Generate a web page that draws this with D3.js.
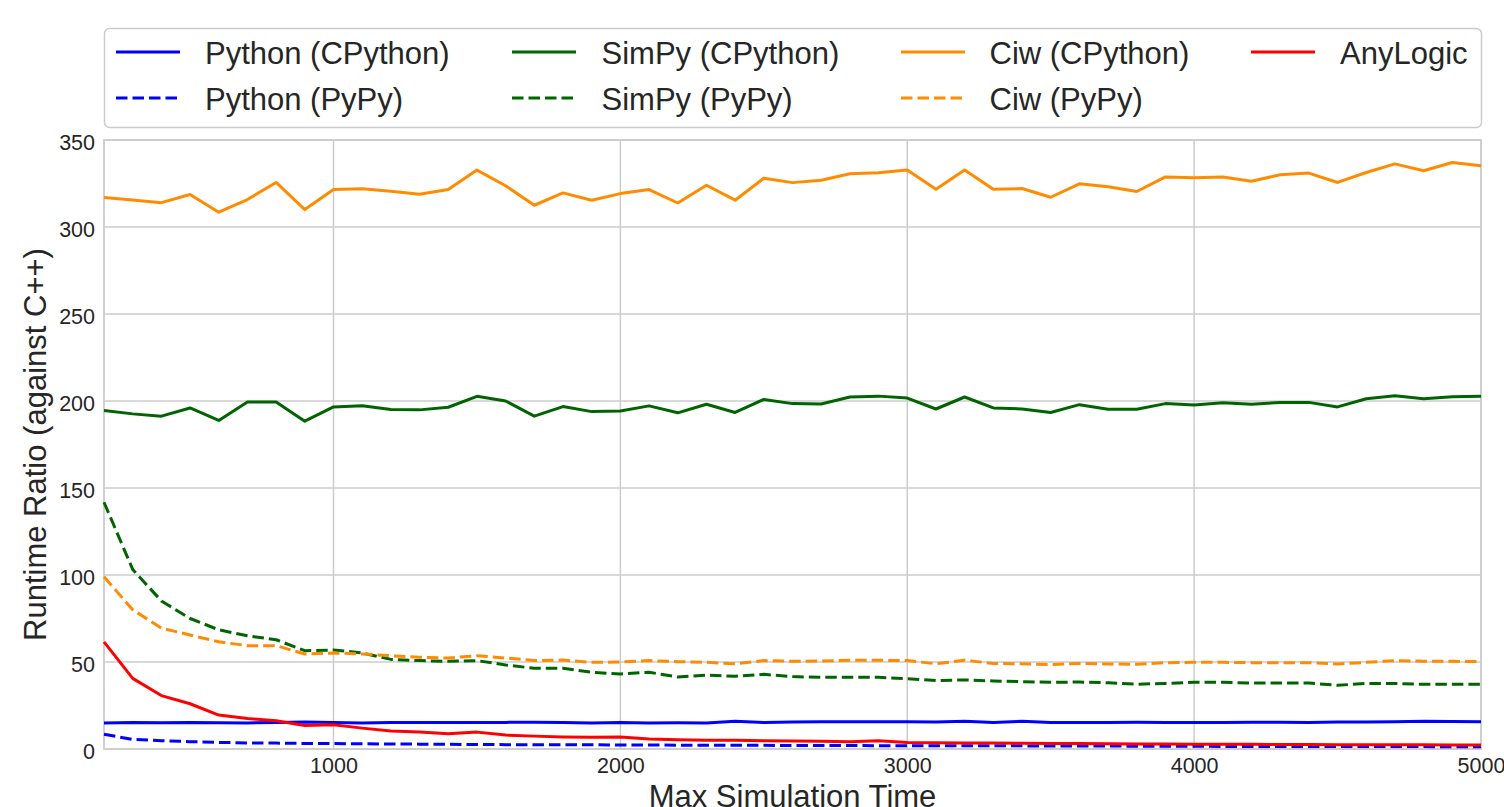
<!DOCTYPE html>
<html>
<head>
<meta charset="utf-8">
<script src="https://cdn.jsdelivr.net/npm/d3@7"></script>
<style>
  html, body { margin: 0; padding: 0; background: #ffffff; }
  svg { display: block; font-family: "Liberation Sans", Arial, sans-serif; }
</style>
</head>
<body>
<svg id="chart" width="1504" height="807"></svg>
<script>
// ---------------- data ----------------
const xValues = d3.range(200, 5001, 100); // Max Simulation Time 200..5000

const pythonCPython = [15.0,15.3,15.1,15.3,15.1,15.0,15.3,15.5,15.3,15.0,
  15.2,15.3,15.2,15.2,15.3,15.4,15.3,15.0,15.2,15.0,
  15.1,15.0,15.9,15.2,15.5,15.6,15.6,15.6,15.6,15.5,
  16.0,15.3,15.9,15.3,15.3,15.3,15.4,15.3,15.2,15.3,
  15.4,15.4,15.3,15.5,15.5,15.6,16.0,15.8,15.7];

const pythonPyPy = [8.5,5.5,4.8,4.2,3.8,3.5,3.4,3.2,3.1,3.0,
  2.9,2.8,2.7,2.6,2.5,2.5,2.4,2.4,2.3,2.3,
  2.2,2.2,2.1,2.1,2.0,2.0,2.0,1.9,1.9,1.9,
  1.8,1.8,1.8,1.7,1.7,1.7,1.6,1.6,1.6,1.5,
  1.5,1.5,1.5,1.4,1.4,1.4,1.4,1.3,1.3];

const simpyCPython = [194.5,192.6,191.3,196.0,188.8,199.4,199.4,188.4,196.6,197.3,
  195.1,194.9,196.4,202.7,200.0,191.3,196.8,193.9,194.3,197.2,
  193.2,198.1,193.4,200.9,198.5,198.3,202.3,202.8,201.7,195.4,
  202.3,196.0,195.4,193.4,197.9,195.3,195.3,198.5,197.7,199.0,
  198.1,199.2,199.2,196.6,201.3,203.0,201.3,202.5,202.7];

const simpyPyPy = [141.8,103.2,85.1,75.0,68.5,65.1,62.8,56.5,56.9,55.2,
  51.5,50.8,50.4,50.8,48.3,46.4,46.4,44.1,43.1,44.1,
  41.4,42.5,41.8,42.9,41.6,41.2,41.2,41.2,40.4,39.3,
  39.7,39.1,38.7,38.3,38.5,38.1,37.2,37.7,38.3,38.3,
  37.9,37.9,37.9,36.6,37.7,37.7,37.2,37.2,37.2];

const ciwCPython = [317.0,315.5,314.0,318.7,308.5,315.8,325.6,310.0,321.5,322.0,
  320.6,318.8,321.5,332.7,323.7,312.5,319.6,315.4,319.2,321.5,
  313.8,324.0,315.4,328.0,325.5,326.9,330.6,331.2,332.7,321.7,
  332.7,321.7,322.1,317.1,324.8,323.1,320.4,328.8,328.3,328.7,
  326.3,330.0,331.0,325.6,331.3,336.3,332.3,337.1,335.2];

const ciwPyPy = [99.0,80.0,69.5,65.5,61.6,59.4,59.4,54.6,55.2,54.6,
  53.6,52.7,52.3,53.6,52.3,50.8,51.1,49.8,50.0,50.8,
  50.2,49.8,49.0,50.8,50.4,50.6,51.0,51.0,50.8,49.0,
  51.0,49.2,49.0,48.5,49.2,48.9,48.7,49.6,49.8,49.8,
  49.6,49.6,49.6,48.9,49.8,50.8,50.4,50.4,50.2];

const anyLogic = [61.6,40.6,30.7,26.0,19.5,17.5,16.2,13.5,13.9,12.0,
  10.3,9.7,8.8,9.7,8.0,7.4,6.9,6.7,6.9,5.7,
  5.3,5.1,5.0,4.8,4.6,4.4,4.1,4.7,3.8,3.6,
  3.5,3.4,3.3,3.2,3.1,3.0,2.9,2.9,2.8,2.8,
  2.7,2.6,2.6,2.5,2.5,2.4,2.4,2.3,2.3];

const seriesNames = ["Python (CPython)", "Python (PyPy)", "SimPy (CPython)", "SimPy (PyPy)",
                     "Ciw (CPython)", "Ciw (PyPy)", "AnyLogic"];
const seriesValues = [pythonCPython, pythonPyPy, simpyCPython, simpyPyPy, ciwCPython, ciwPyPy, anyLogic];
const seriesColors = ["#0000ff", "#0000ff", "#006400", "#006400", "#ff8c00", "#ff8c00", "#ff0000"];
const seriesDashed = [false, true, false, true, false, true, false];

const xTicks = [1000, 2000, 3000, 4000, 5000];
const yTicks = [0, 50, 100, 150, 200, 250, 300, 350];
const xTitle = "Max Simulation Time";
const yTitle = "Runtime Ratio (against C++)";

// ---------------- layout ----------------
const svg = d3.select("#chart");
const plot = { left: 104, right: 1481, top: 140, bottom: 749 };
const textColor = "#262626";
const gridColor = "#cccccc";
const lineW = 3;
const dash = "11.5,5";

const x = d3.scaleLinear().domain([200, 5000]).range([plot.left, plot.right]);
const y = d3.scaleLinear().domain([0, 350]).range([plot.bottom, plot.top]);

svg.append("rect").attr("width", 1504).attr("height", 807).attr("fill", "#ffffff");

// grid
const grid = svg.append("g");
grid.selectAll("line.gx").data(xTicks).enter().append("line")
  .attr("x1", d => x(d)).attr("x2", d => x(d))
  .attr("y1", plot.top).attr("y2", plot.bottom)
  .attr("stroke", gridColor).attr("stroke-width", 1.5);
grid.selectAll("line.gy").data(yTicks).enter().append("line")
  .attr("x1", plot.left).attr("x2", plot.right)
  .attr("y1", d => y(d)).attr("y2", d => y(d))
  .attr("stroke", gridColor).attr("stroke-width", 1.5);

// frame
svg.append("rect")
  .attr("x", plot.left).attr("y", plot.top)
  .attr("width", plot.right - plot.left).attr("height", plot.bottom - plot.top)
  .attr("fill", "none").attr("stroke", gridColor).attr("stroke-width", 1.8);

// axes tick labels via d3 axes (no domain/ticks lines)
const xAxis = d3.axisBottom(x).tickValues(xTicks).tickSize(0).tickPadding(0).tickFormat(d3.format("d"));
const gx = svg.append("g").attr("transform", `translate(0,${plot.bottom})`).call(xAxis);
gx.select(".domain").remove();
gx.selectAll("text").attr("fill", textColor).attr("font-size", 21.5)
  .attr("font-family", "'Liberation Sans', Arial, sans-serif")
  .attr("dy", null).attr("y", 24);

const yAxis = d3.axisLeft(y).tickValues(yTicks).tickSize(0).tickPadding(9).tickFormat(d3.format("d"));
const gy = svg.append("g").attr("transform", `translate(${plot.left},0)`).call(yAxis);
gy.select(".domain").remove();
gy.selectAll("text").attr("fill", textColor).attr("font-size", 21.5)
  .attr("font-family", "'Liberation Sans', Arial, sans-serif")
  .attr("dy", null).attr("y", 9);

// axis titles
svg.append("text")
  .attr("x", (plot.left + plot.right) / 2).attr("y", 807)
  .attr("text-anchor", "middle").attr("fill", textColor).attr("font-size", 31)
  .text(xTitle);
svg.append("text")
  .attr("transform", `translate(46,${(plot.top + plot.bottom) / 2}) rotate(-90)`)
  .attr("text-anchor", "middle").attr("fill", textColor).attr("font-size", 31)
  .text(yTitle);

// lines
const lineGen = d3.line().x((d, i) => x(xValues[i])).y(d => y(d));
const lines = svg.append("g");
seriesValues.forEach((vals, k) => {
  lines.append("path")
    .datum(vals)
    .attr("d", lineGen)
    .attr("fill", "none")
    .attr("stroke", seriesColors[k])
    .attr("stroke-width", lineW)
    .attr("stroke-linejoin", "round")
    .attr("stroke-dasharray", seriesDashed[k] ? dash : null);
});

// legend
const legend = svg.append("g");
legend.append("rect")
  .attr("x", 104.5).attr("y", 28.5).attr("width", 1377).attr("height", 99)
  .attr("rx", 5).attr("ry", 5)
  .attr("fill", "#ffffff").attr("stroke", gridColor).attr("stroke-width", 1.5);

const colHandleX = [116, 512, 901, 1251];
const colTextX = [205, 601.5, 989.5, 1340];
const rowLineY = [52, 98];
const rowTextY = [63.5, 110];
seriesNames.forEach((name, k) => {
  const col = Math.floor(k / 2);
  const row = k % 2;
  legend.append("line")
    .attr("x1", colHandleX[col]).attr("x2", colHandleX[col] + 64)
    .attr("y1", rowLineY[row]).attr("y2", rowLineY[row])
    .attr("stroke", seriesColors[k]).attr("stroke-width", lineW)
    .attr("stroke-dasharray", seriesDashed[k] ? dash : null);
  legend.append("text")
    .attr("x", colTextX[col]).attr("y", rowTextY[row])
    .attr("fill", textColor).attr("font-size", 31)
    .text(name);
});
</script>
</body>
</html>
